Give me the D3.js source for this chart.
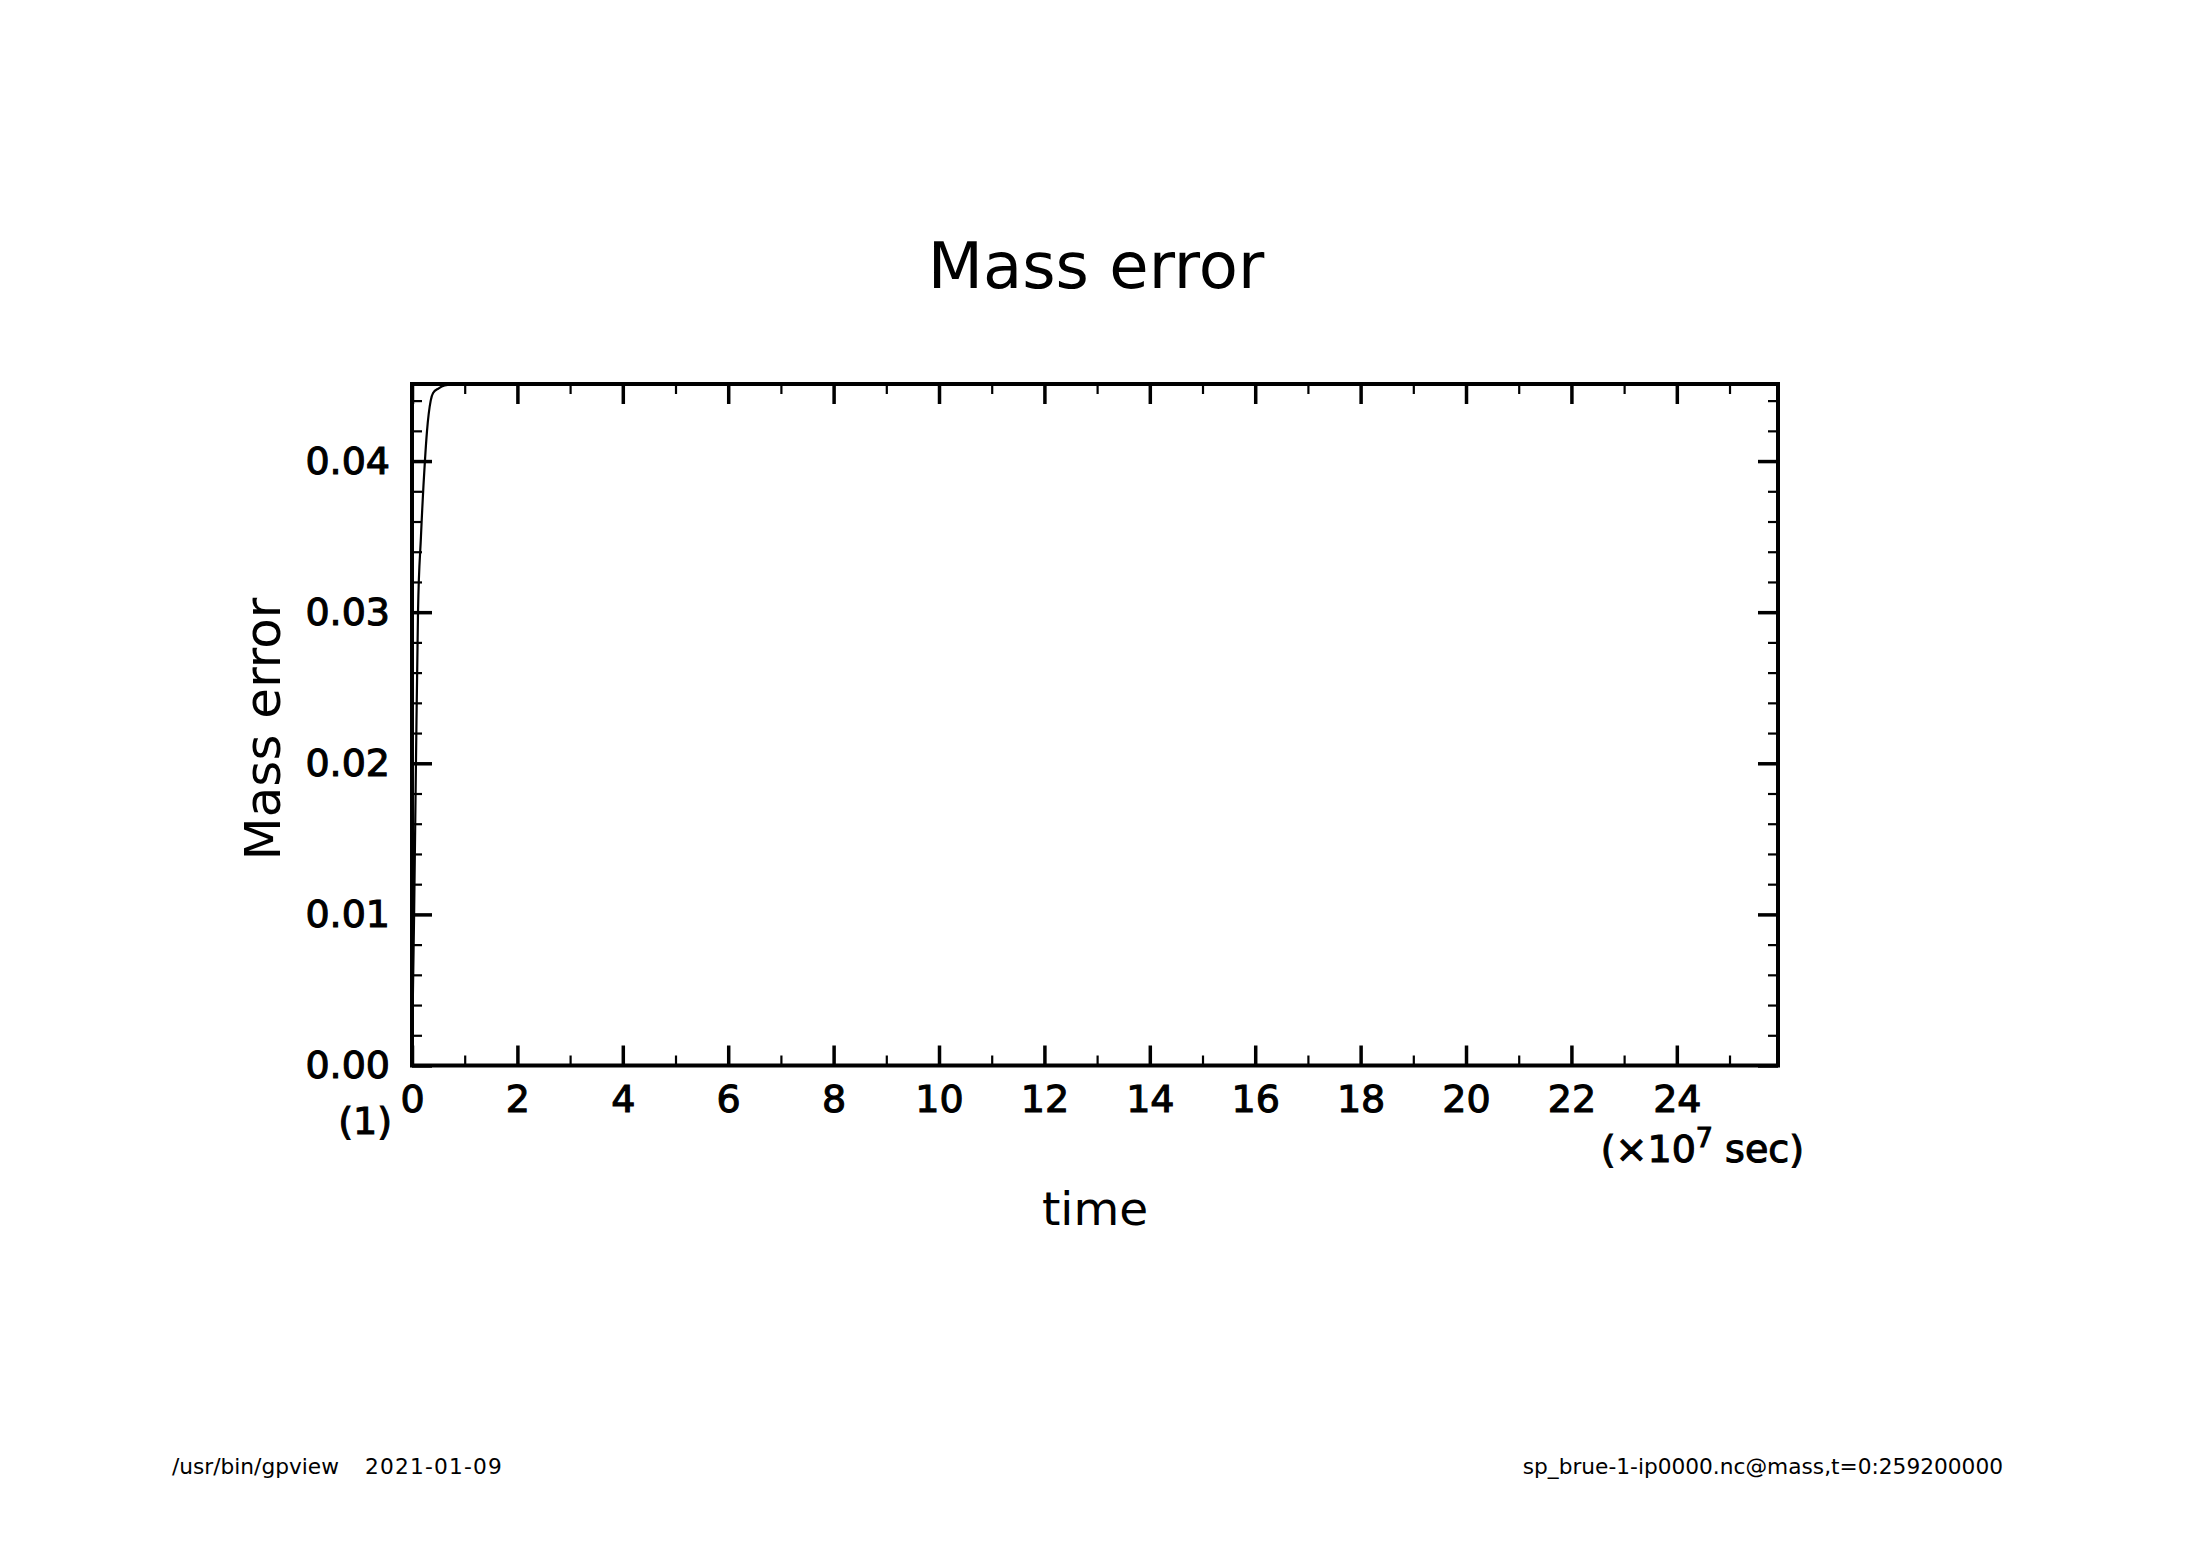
<!DOCTYPE html>
<html>
<head>
<meta charset="utf-8">
<script src="https://cdn.jsdelivr.net/npm/d3@7"></script>
<style>
  html, body { margin: 0; padding: 0; background: #fff; }
  svg { display: block; }
  text { font-family: "DejaVu Sans", sans-serif; fill: #000; }
</style>
</head>
<body>
<svg id="chart" width="2188" height="1546"></svg>
<script>
// ---- data (time in units of 1e7 s, mass error) ----
const timeVals = [0, 0.01, 0.025, 0.04, 0.075, 0.114, 0.17, 0.245, 0.285, 0.355, 0.40, 0.5, 0.62, 0.9, 1.2, 2, 4, 6, 8, 10, 12, 14, 16, 18, 20, 22, 24, 25.92];
const massErr  = [0, 0.003, 0.0065, 0.01, 0.02, 0.03, 0.035, 0.04, 0.042, 0.044, 0.0445, 0.0448, 0.0450, 0.0451, 0.0451, 0.0451, 0.0451, 0.0451, 0.0451, 0.0451, 0.0451, 0.0451, 0.0451, 0.0451, 0.0451, 0.0451, 0.0451, 0.0451];
const xMajorTicks = [0, 2, 4, 6, 8, 10, 12, 14, 16, 18, 20, 22, 24];
const xMinorTicks = [1, 3, 5, 7, 9, 11, 13, 15, 17, 19, 21, 23, 25];
const yMajorTicks = [0, 0.01, 0.02, 0.03, 0.04];
const yMinorTicks = [0.002, 0.004, 0.006, 0.008, 0.012, 0.014, 0.016, 0.018, 0.022, 0.024, 0.026, 0.028, 0.032, 0.034, 0.036, 0.038, 0.042, 0.044];
const xDomain = [0, 25.92];
const yDomain = [0, 0.0451];

const titleText = "Mass error";
const xLabel = "time";
const yLabel = "Mass error";
const footLeftA = "/usr/bin/gpview";
const footLeftB = "2021-01-09";
const footRight = "sp_brue-1-ip0000.nc@mass,t=0:259200000";

// ---- layout ----
const L = 412, R = 1778, T = 384, B = 1065.5;
const svg = d3.select("#chart");

const x = d3.scaleLinear().domain(xDomain).range([L, R]);
const y = d3.scaleLinear().domain(yDomain).range([B, T]);

function styleAxis(g, w) {
  g.select(".domain").remove();
  g.selectAll(".tick line").attr("stroke", "#000").attr("stroke-width", w);
  g.selectAll(".tick text").style("font-family", "DejaVu Sans, sans-serif").style("font-size", "38px")
    .attr("fill", "#000").attr("stroke", "#000").attr("stroke-width", 1.1);
}

// bottom
svg.append("g").attr("transform", `translate(0,${B})`)
  .call(d3.axisBottom(x).tickValues(xMajorTicks).tickSize(-20).tickSizeOuter(0).tickPadding(19.5).tickFormat(d3.format("d")))
  .call(g => styleAxis(g, 3.5));
svg.append("g").attr("transform", `translate(0,${B})`)
  .call(d3.axisBottom(x).tickValues(xMinorTicks).tickSize(-10).tickSizeOuter(0).tickFormat(""))
  .call(g => styleAxis(g, 2.2));
// top
svg.append("g").attr("transform", `translate(0,${T})`)
  .call(d3.axisTop(x).tickValues(xMajorTicks).tickSize(-20).tickSizeOuter(0).tickFormat(""))
  .call(g => styleAxis(g, 3.5));
svg.append("g").attr("transform", `translate(0,${T})`)
  .call(d3.axisTop(x).tickValues(xMinorTicks).tickSize(-10).tickSizeOuter(0).tickFormat(""))
  .call(g => styleAxis(g, 2.2));
// left
svg.append("g").attr("transform", `translate(${L},0)`)
  .call(d3.axisLeft(y).tickValues(yMajorTicks).tickSize(-20).tickSizeOuter(0).tickPadding(22).tickFormat(d3.format(".2f")))
  .call(g => styleAxis(g, 3.5));
svg.append("g").attr("transform", `translate(${L},0)`)
  .call(d3.axisLeft(y).tickValues(yMinorTicks).tickSize(-10).tickSizeOuter(0).tickFormat(""))
  .call(g => styleAxis(g, 2.2));
// right
svg.append("g").attr("transform", `translate(${R},0)`)
  .call(d3.axisRight(y).tickValues(yMajorTicks).tickSize(-20).tickSizeOuter(0).tickFormat(""))
  .call(g => styleAxis(g, 3.5));
svg.append("g").attr("transform", `translate(${R},0)`)
  .call(d3.axisRight(y).tickValues(yMinorTicks).tickSize(-10).tickSizeOuter(0).tickFormat(""))
  .call(g => styleAxis(g, 2.2));

// data line
const line = d3.line().x((d, i) => x(timeVals[i])).y(d => y(d)).curve(d3.curveMonotoneX);
svg.append("path").datum(massErr)
  .attr("d", line).attr("fill", "none").attr("stroke", "#000").attr("stroke-width", 2.2);

// frame
svg.append("rect").attr("x", L).attr("y", T).attr("width", R - L).attr("height", B - T)
  .attr("fill", "none").attr("stroke", "#000").attr("stroke-width", 4);

// texts
svg.append("text").attr("x", 1096).attr("y", 288).attr("text-anchor", "middle")
  .style("font-size", "64px").text(titleText);

svg.append("text").attr("x", 1095).attr("y", 1225).attr("text-anchor", "middle")
  .style("font-size", "47px").text(xLabel);

svg.append("text").attr("transform", "translate(280,729) rotate(-90)").attr("text-anchor", "middle")
  .style("font-size", "50px").text(yLabel);

svg.append("text").attr("x", 392).attr("y", 1134).attr("text-anchor", "end")
  .style("font-size", "38px").attr("stroke", "#000").attr("stroke-width", 1.1).text("(1)");

const unit = svg.append("text").attr("x", 1804).attr("y", 1162).attr("text-anchor", "end")
  .style("font-size", "38px").attr("stroke", "#000").attr("stroke-width", 1.1);
unit.append("tspan").text("(×10");
unit.append("tspan").attr("dy", -15).style("font-size", "27px").text("7");
unit.append("tspan").attr("dy", 15).text(" sec)");

const fl = svg.append("text").attr("x", 172).attr("y", 1474).style("font-size", "21.7px");
fl.append("tspan").text(footLeftA);
fl.append("tspan").attr("dx", 26).attr("letter-spacing", 1.2).text(footLeftB);
svg.append("text").attr("x", 2003).attr("y", 1474).attr("text-anchor", "end").style("font-size", "21.7px").text(footRight);
</script>
</body>
</html>
